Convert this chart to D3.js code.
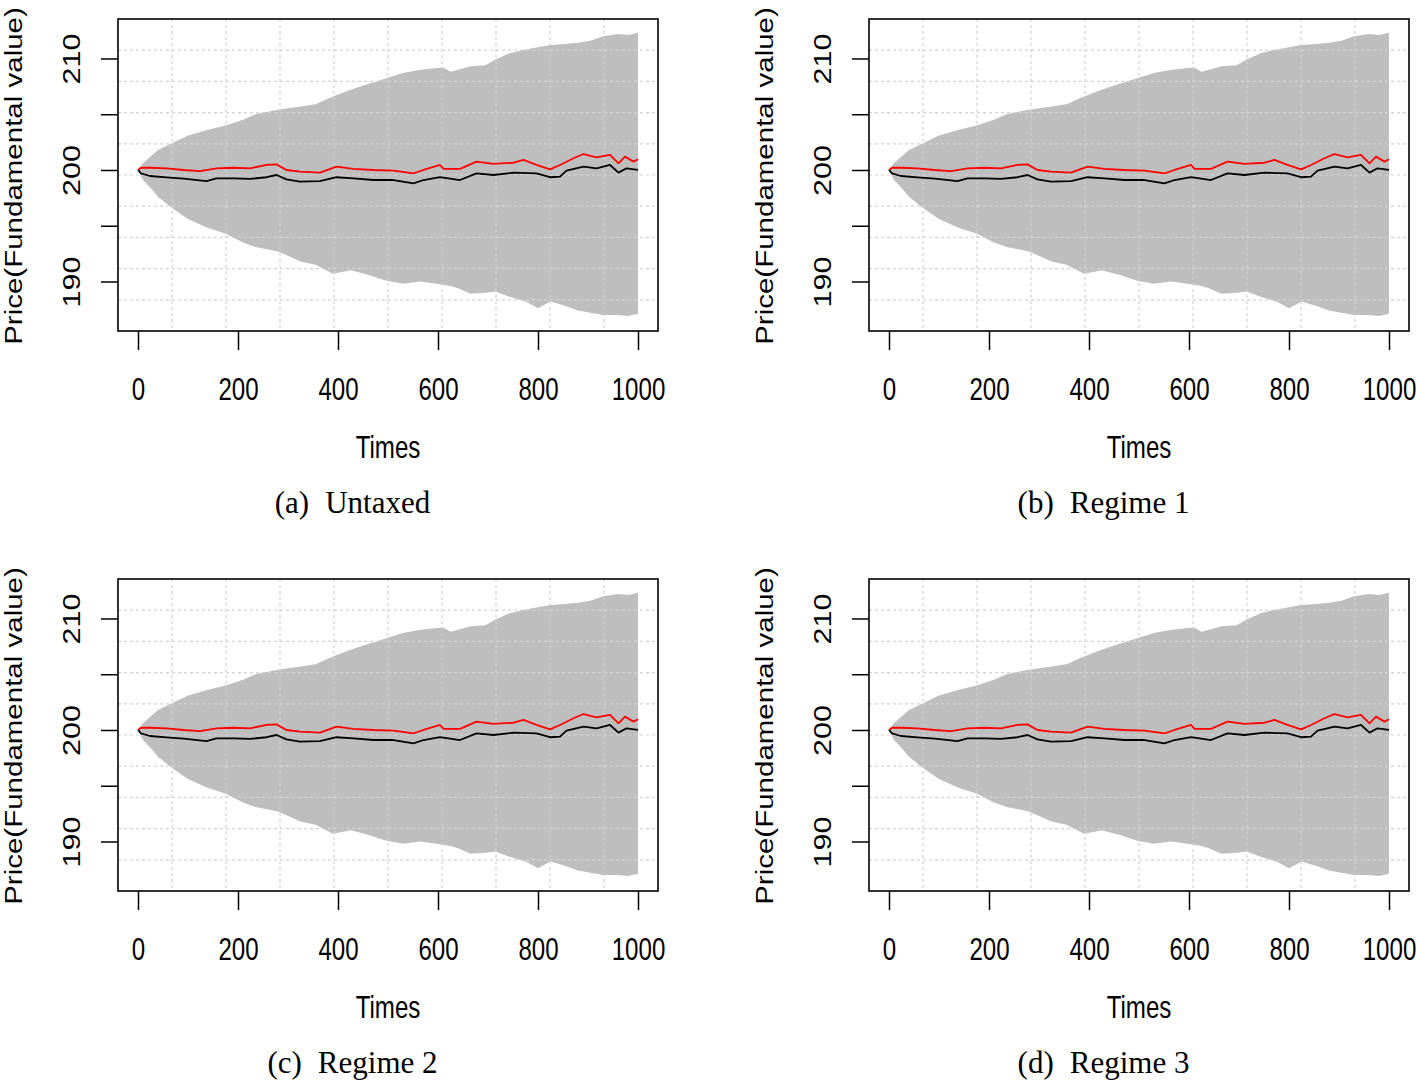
<!DOCTYPE html>
<html>
<head>
<meta charset="utf-8">
<script src="https://cdn.jsdelivr.net/npm/d3@7"></script>
<style>
  html, body { margin: 0; padding: 0; background: #ffffff; }
  svg { display: block; }
</style>
</head>
<body>
<script>
// ---------------- data ----------------
const xTicks = [0, 200, 400, 600, 800, 1000];
const yTicks = [190, 195, 200, 205, 210];
const yTickLabels = ["190", "", "200", "", "210"];
const panelLetters = ["(a)", "(b)", "(c)", "(d)"];
const panelNames = ["Untaxed", "Regime 1", "Regime 2", "Regime 3"];
const xTitle = "Times";
const yTitle = "Price(Fundamental value)";

// envelope of simulated prices (grey band)
const envT  = [0, 10, 25, 40, 68, 100, 140, 175, 210, 235, 280, 325, 355, 390, 425, 460, 495, 530, 565, 610, 625, 640, 665, 695, 715, 745, 775, 800, 825, 855, 880, 905, 930, 960, 980, 1000];
const envHi = [200.0, 200.6, 201.2, 201.8, 202.4, 203.1, 203.6, 204.0, 204.5, 205.0, 205.4, 205.7, 205.9, 206.6, 207.2, 207.7, 208.2, 208.7, 209.0, 209.2, 208.8, 209.0, 209.3, 209.4, 209.9, 210.5, 210.8, 211.0, 211.2, 211.3, 211.4, 211.6, 212.0, 212.2, 212.1, 212.3];
const envLo = [200.0, 199.1, 198.4, 197.6, 196.6, 195.6, 194.8, 194.3, 193.5, 193.1, 192.7, 191.8, 191.5, 190.7, 191.0, 190.6, 190.1, 189.8, 190.0, 189.7, 189.6, 189.4, 188.9, 189.0, 189.1, 188.6, 188.2, 187.6, 188.2, 187.8, 187.4, 187.2, 187.0, 187.0, 186.9, 187.1];

// red line (price) and black line (fundamental value)
const redT  = [0, 6, 24, 57, 91, 124, 157, 191, 224, 257, 277, 297, 324, 364, 397, 431, 471, 511, 551, 571, 604, 611, 644, 677, 711, 751, 771, 797, 824, 844, 871, 891, 917, 944, 961, 974, 991, 1000];
const redV  = [200.0, 200.2, 200.2, 200.15, 200.0, 199.9, 200.15, 200.2, 200.15, 200.45, 200.5, 200.0, 199.85, 199.76, 200.3, 200.1, 200.0, 199.94, 199.7, 200.0, 200.45, 200.1, 200.1, 200.75, 200.54, 200.65, 200.9, 200.45, 200.06, 200.45, 201.05, 201.43, 201.14, 201.35, 200.6, 201.2, 200.75, 200.96];
const blackT = [0, 6, 24, 57, 91, 137, 157, 191, 224, 257, 277, 297, 324, 364, 397, 431, 471, 511, 551, 571, 604, 644, 677, 711, 751, 797, 824, 844, 857, 891, 917, 944, 961, 977, 1000];
const blackV = [200.0, 199.7, 199.46, 199.34, 199.22, 199.0, 199.25, 199.25, 199.2, 199.35, 199.55, 199.16, 198.95, 199.0, 199.35, 199.25, 199.1, 199.1, 198.8, 199.1, 199.35, 199.1, 199.7, 199.55, 199.76, 199.7, 199.35, 199.4, 199.94, 200.3, 200.15, 200.45, 199.76, 200.15, 200.0];

// ---------------- layout ----------------
const W = 1416, H = 1081;
const FONT = "'Liberation Sans', Arial, Helvetica, sans-serif";
const SERIF = "'Liberation Serif', 'Times New Roman', serif";
const SQUEEZE = 0.79;     // the figure is horizontally compressed
const FS = 30.5;

const svg = d3.select("body").append("svg")
  .attr("width", W).attr("height", H)
  .attr("viewBox", `0 0 ${W} ${H}`);

const offsets = [[0, 0], [751, 0], [0, 560], [751, 560]];

// plot box (relative to panel origin)
const box = { left: 118, right: 658, top: 19, bottom: 331 };

const x = d3.scaleLinear().domain([-40, 1040]).range([box.left, box.right]);
const y = d3.scaleLinear().domain([185.56, 213.54]).range([box.bottom, box.top]);

const area = d3.area()
  .x((d, i) => x(envT[i]))
  .y0((d, i) => y(envLo[i]))
  .y1((d, i) => y(envHi[i]));

const line = d3.line().x(d => x(d[0])).y(d => y(d[1]));

offsets.forEach((off, p) => {
  const g = svg.append("g").attr("transform", `translate(${off[0]},${off[1]})`);

  // grey band
  g.append("path").datum(envT).attr("d", area).attr("fill", "#bebebe");

  // grid: 10 x 10 cells over the plotting region
  const gx = d3.range(1, 10).map(i => x.domain()[0] + i * (x.domain()[1] - x.domain()[0]) / 10);
  const gy = d3.range(1, 10).map(i => y.domain()[0] + i * (y.domain()[1] - y.domain()[0]) / 10);
  g.append("g").selectAll("line.v").data(gx).join("line")
    .attr("x1", d => x(d)).attr("x2", d => x(d))
    .attr("y1", box.top).attr("y2", box.bottom)
    .attr("stroke", "#d3d3d3").attr("stroke-width", 1.2).attr("stroke-dasharray", "3,3");
  g.append("g").selectAll("line.h").data(gy).join("line")
    .attr("x1", box.left).attr("x2", box.right)
    .attr("y1", d => y(d)).attr("y2", d => y(d))
    .attr("stroke", "#d3d3d3").attr("stroke-width", 1.2).attr("stroke-dasharray", "3,3");

  // lines
  g.append("path").datum(redT.map((t, i) => [t, redV[i]])).attr("d", line)
    .attr("fill", "none").attr("stroke", "#ff0000").attr("stroke-width", 1.8).attr("stroke-linejoin", "round");
  g.append("path").datum(blackT.map((t, i) => [t, blackV[i]])).attr("d", line)
    .attr("fill", "none").attr("stroke", "#000000").attr("stroke-width", 1.8).attr("stroke-linejoin", "round");

  // box
  g.append("rect")
    .attr("x", box.left).attr("y", box.top)
    .attr("width", box.right - box.left).attr("height", box.bottom - box.top)
    .attr("fill", "none").attr("stroke", "#000").attr("stroke-width", 1.6);

  // x axis
  const ax = g.append("g").attr("transform", `translate(0,${box.bottom})`)
    .call(d3.axisBottom(x).tickValues(xTicks).tickSize(19).tickFormat(d3.format("d")));
  ax.select(".domain").remove();
  ax.selectAll(".tick line").attr("stroke", "#000").attr("stroke-width", 1.5);
  ax.selectAll(".tick text")
    .attr("y", 69).attr("dy", null)
    .attr("transform", `scale(${SQUEEZE},1)`)
    .attr("fill", "#000")
    .style("font-family", FONT).style("font-size", FS + "px");

  // y axis
  const ay = g.append("g").attr("transform", `translate(${box.left},0)`)
    .call(d3.axisLeft(y).tickValues(yTicks).tickSize(17).tickFormat((d, i) => yTickLabels[i]));
  ay.select(".domain").remove();
  ay.selectAll(".tick line").attr("stroke", "#000").attr("stroke-width", 1.5);
  ay.selectAll(".tick text")
    .attr("x", null).attr("y", null).attr("dy", null)
    .attr("text-anchor", "middle")
    .attr("transform", `translate(-38,0) scale(${SQUEEZE},1) rotate(-90)`)
    .attr("fill", "#000")
    .style("font-family", FONT).style("font-size", FS + "px");

  // axis titles
  g.append("text")
    .attr("transform", `translate(${(box.left + box.right) / 2},458) scale(${SQUEEZE},1)`)
    .attr("text-anchor", "middle")
    .style("font-family", FONT).style("font-size", FS + "px")
    .text(xTitle);
  g.append("text")
    .attr("transform", `translate(22,${(box.top + box.bottom) / 2 + 1}) scale(${SQUEEZE},1) rotate(-90)`)
    .attr("text-anchor", "middle")
    .style("font-family", FONT).style("font-size", "29.5px")
    .text(yTitle);

  // caption
  const cap = g.append("text")
    .attr("x", 352.5).attr("y", 513)
    .attr("text-anchor", "middle")
    .style("font-family", SERIF).style("font-size", "31px");
  cap.append("tspan").text(panelLetters[p]);
  cap.append("tspan").attr("dx", 16).text(panelNames[p]);
});
</script>
</body>
</html>
